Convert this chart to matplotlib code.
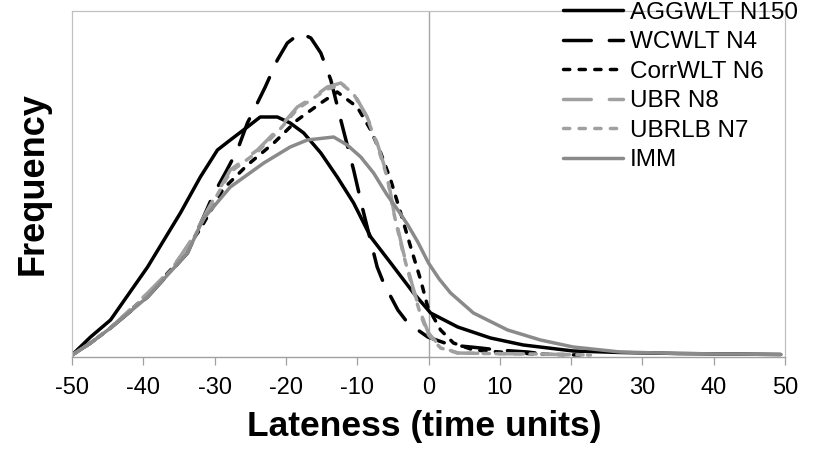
import matplotlib
matplotlib.use("Agg")
import matplotlib.pyplot as plt

plt.rcParams['font.family'] = ['Liberation Sans', 'DejaVu Sans']

# ---- data (frequency in arbitrary units) ----
agg_x = [-50, -47.4, -44.6, -39.4, -34.8, -32.0, -29.6, -27.8, -25.4, -23.6, -21.2, -19.4,
         -17.5, -15.1, -12.8, -10.5, -8.1, -5.3, -2.1, 0.3, 4.1, 8.7, 13.3, 20.3, 26.9,
         35, 42, 49.4]
agg_y = [0, 18, 35, 88, 142, 178, 205, 215, 228, 238, 238, 232,
         222, 202, 178, 152, 118, 92, 62, 42, 28, 17, 10, 4, 2.5,
         1.5, 1, 0.5]

wc_x = [-50, -47.4, -44.6, -39.4, -33.8, -31.3, -30.2, -28.5, -26.8, -25.4, -24.0, -22.9,
        -21.2, -19.8, -18.0, -16.5, -15.1, -13.7, -12.3, -10.5, -9.3, -7.2, -6.3, -4.3,
        -2.9, -0.1, 3.1, 7.3, 9.7, 13.9, 15.0]
wc_y = [0, 12, 27, 58, 102, 142, 160, 182, 205, 232, 252, 268,
        295, 312, 322, 317, 302, 275, 235, 185, 148, 88, 72, 45,
        32, 18, 10, 7, 5, 3, 2]

corr_x = [-50, -47.4, -44.6, -39.4, -35.8, -32.0, -28.8, -25.4, -21.7, -18.4, -15.1, -12.8,
          -10.0, -8.1, -6.7, -5.3, -3.9, -2.5, -1.1, -0.1, 1.7, 3.5, 6.3, 10, 15, 21.3]
corr_y = [0, 12, 27, 60, 88, 126, 166, 190, 212, 235, 252, 263,
          248, 225, 202, 175, 142, 108, 75, 48, 25, 12, 5, 3, 1, 0]

ubr_x = [-50, -47.4, -44.6, -39.4, -35.8, -33.0, -31.0, -27.8, -24.0, -20.8, -18.4, -16.1,
         -14.2, -12.3, -10.5, -8.6, -7.2, -5.8, -4.9, -3.5, -2.2, -1.1, 0, 1.7, 4.1,
         8, 15, 22.7]
ubr_y = [0, 12, 27, 62, 88, 118, 145, 185, 205, 228, 248, 258,
         268, 272, 262, 238, 212, 180, 145, 102, 68, 42, 22, 8, 2,
         1.5, 1, 0]

ubrlb_x = [-50, -47.4, -44.6, -39.4, -35.8, -33.0, -31.0, -27.8, -24.0, -20.8, -18.4, -16.1,
           -14.2, -12.0, -10.5, -8.6, -7.2, -5.8, -4.9, -3.5, -2.2, -1.1, 0, 1.7, 4.1,
           8, 15, 22.7]
ubrlb_y = [0, 12, 27, 60, 87, 116, 143, 183, 203, 226, 246, 257,
           266, 270, 261, 237, 210, 178, 143, 100, 66, 40, 20, 7, 2,
           1.5, 1, 0]

imm_x = [-50, -47.4, -44.6, -39.4, -33.8, -31.6, -27.8, -23.1, -19.4, -17.0, -13.3, -11.4,
         -9.5, -7.7, -5.8, -4.3, -2.9, -1.5, 0, 1.5, 3.1, 6.3, 11.1, 15.7, 20.3, 26.9,
         35, 42, 49.4]
imm_y = [0, 12, 27, 58, 102, 136, 168, 192, 208, 215, 218, 210,
         198, 182, 160, 145, 130, 113, 92, 76, 62, 42, 25, 15, 8, 3,
         1.5, 1, 0.5]

series_labels = ['AGGWLT N150', 'WCWLT N4', 'CorrWLT N6', 'UBR N8', 'UBRLB N7', 'IMM']
x_ticks = [-50, -40, -30, -20, -10, 0, 10, 20, 30, 40, 50]

# ---- figure ----
W, H = 818, 454
fig = plt.figure(figsize=(W / 100, H / 100), dpi=100)
L, R, T, B = 72, 785, 11, 357
ax = fig.add_axes([L / W, 1 - B / H, (R - L) / W, (B - T) / H])

lw = 2.5
long_dash = (0, (8.0, 5.2))
short_dash = (0, (1.8, 2.7))
gray_light = '#A0A0A0'
gray_dark = '#8A8A8A'

styles = [
    dict(color='black', linestyle='-'),
    dict(color='black', linestyle=long_dash),
    dict(color='black', linestyle=short_dash),
    dict(color=gray_light, linestyle=long_dash),
    dict(color=gray_light, linestyle=short_dash),
    dict(color=gray_dark, linestyle='-'),
]
data = [(agg_x, agg_y), (wc_x, wc_y), (corr_x, corr_y),
        (ubr_x, ubr_y), (ubrlb_x, ubrlb_y), (imm_x, imm_y)]

handles = []
for (xs, ys), st, lab in zip(data, styles, series_labels):
    h, = ax.plot(xs, ys, lw=lw, label=lab, dash_capstyle='round',
                 solid_capstyle='round', solid_joinstyle='round',
                 dash_joinstyle='round', **st)
    handles.append(h)

ax.axvline(0, color='#A6A6A6', lw=1.0, zorder=0)

ax.set_xlim(-50, 50)
ax.set_ylim(-2, 344)
ax.set_xticks(x_ticks)
ax.set_xticklabels([str(t) for t in x_ticks])
ax.set_yticks([])

for s in ['left', 'top', 'right']:
    ax.spines[s].set_color('#C0C0C0')
    ax.spines[s].set_linewidth(0.9)
ax.spines['bottom'].set_color('#A0A0A0')
ax.spines['bottom'].set_linewidth(1.0)
ax.tick_params(axis='x', direction='out', length=5.5, width=0.9, color='#A0A0A0',
               labelsize=17, pad=9, labelcolor='black')

ax.set_xlabel('Lateness (time units)', fontsize=25.5, fontweight='bold')
ax.xaxis.set_label_coords(0.494, -0.152)
ax.xaxis.label.set_va('top')
ax.set_ylabel('Frequency', fontsize=26, fontweight='bold')
ax.yaxis.label.set_va('center')
ax.yaxis.set_label_coords(-0.054, 0.5)

fig.legend(handles=handles, labels=series_labels, loc='upper left',
           bbox_to_anchor=(563 / W, 1 - 1.5 / H), frameon=False,
           borderpad=0, borderaxespad=0, fontsize=17.5,
           handlelength=2.47, handletextpad=0.29, labelspacing=0.31)

fig.savefig('out.png', dpi=100)
